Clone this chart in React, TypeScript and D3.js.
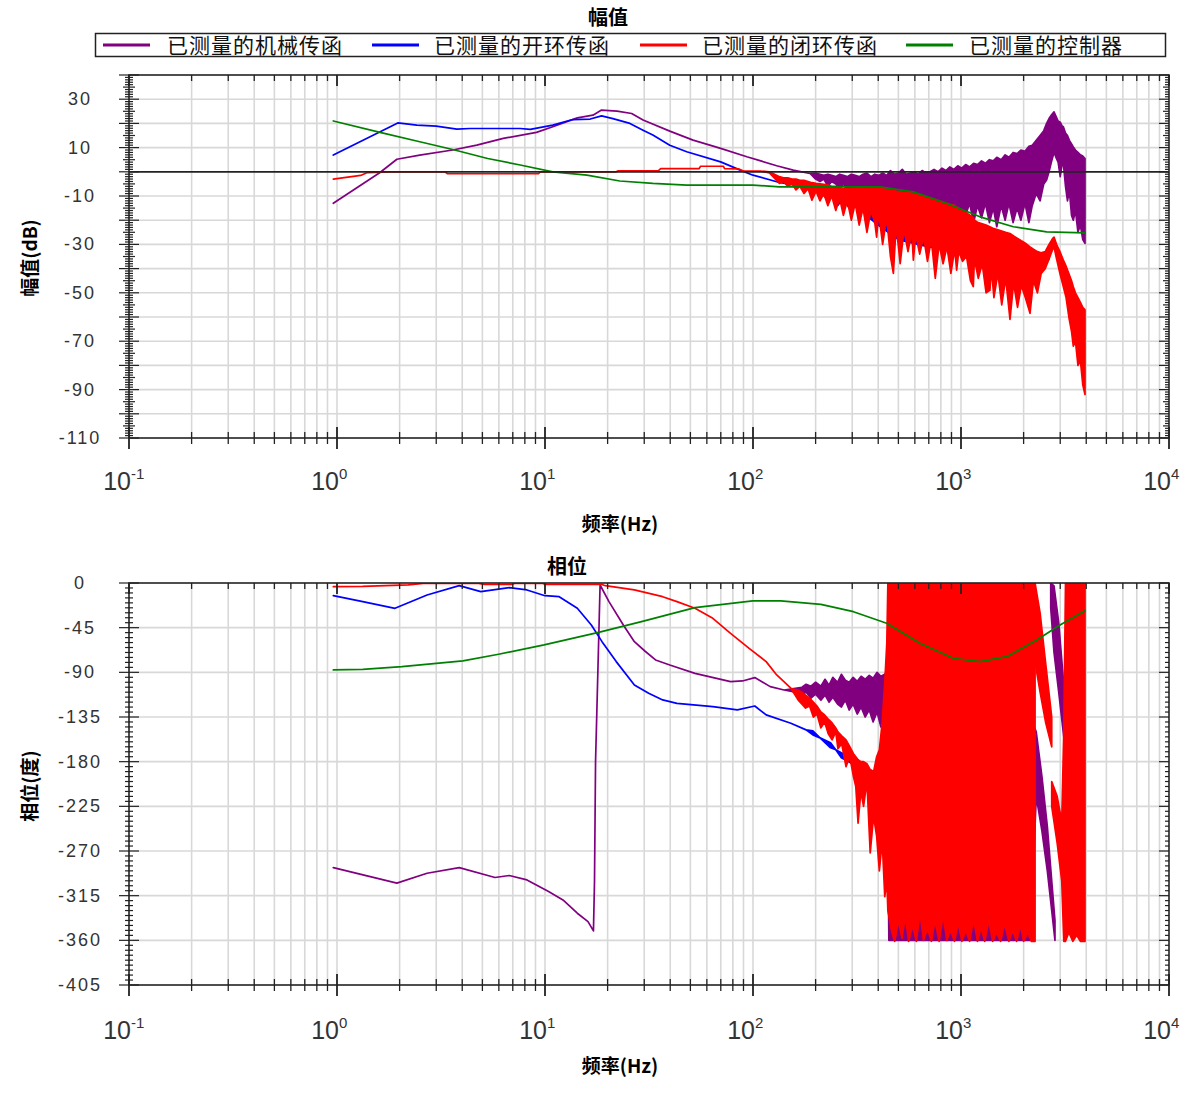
import React from 'react';
import * as d3 from 'd3';

type P = [number, number, number?];

const legendNames = ['已测量的机械传函', '已测量的开环传函', '已测量的闭环传函', '已测量的控制器'];
const seriesColors = ['#800080', '#0000ff', '#ff0000', '#008000'];
const legendLineX = [103, 372, 640, 906];
const legendTextX = [167, 434, 702, 969];

const magLabelTicks = [30, 10, -10, -30, -50, -70, -90, -110];
const magGrid = [30, 20, 10, -10, -20, -30, -40, -50, -60, -70, -80, -90, -100];
const phaseLabelTicks = [0, -45, -90, -135, -180, -225, -270, -315, -360, -405];
const phaseGrid = [-45, -90, -135, -180, -225, -270, -315, -360];
const decades = [-1, 0, 1, 2, 3, 4];

// ---------- magnitude (dB): [Hz, low, high?] ----------
const magMech: P[][] = [[
  [0.96, -13], [1.61, -0.3], [1.94, 5.2], [2.5, 6.9], [3.6, 9.0], [4.7, 11], [6.3, 13.8], [9.1, 16.3],
  [10.9, 18.6], [14.3, 22.3], [17, 23.4], [18.7, 25.5], [22.2, 25.1], [26.1, 24.1], [29.6, 21.4],
  [39.8, 16.8], [51.5, 13.1], [69.9, 9.7], [93.4, 6.2], [109, 4.5], [130, 2.5], [156, 0.7], [188, -0.7],
  [200, -3, -0.5], [210, -4, -1], [219, -3, -1.5], [229, -6, -1], [239, -4, -1.5], [250, -5, -2],
  [261, -7, -1], [272, -5, -1.5], [284, -8, -2], [297, -6, -1], [310, -9, -1.5], [324, -6, -2],
  [338, -10, -1], [353, -7, -0.5], [369, -11, -2], [385, -7, -1], [402, -14.5, -1.5], [420, -8, -0.5],
  [439, -12, -1.5], [458, -9, 0.5], [478, -13, -1], [500, -9, -0.5], [522, -15, 1], [545, -10, -1],
  [570, -16, -0.5], [595, -11, 0], [622, -17, -1], [650, -12, 0.5], [680, -20, -0.5], [710, -13, 0],
  [742, -18, 1], [775, -12, 0], [810, -19, 1.5], [846, -13, 0.5], [884, -17, 2], [924, -12, 1],
  [965, -20, 2.5], [1008, -14, 1.5], [1053, -18, 3], [1100, -13, 2], [1150, -21, 3.5], [1200, -14, 3],
  [1255, -19, 4.5], [1310, -13, 3.5], [1370, -21, 5], [1430, -15, 4.5], [1486, -22.7, 6], [1560, -14, 5],
  [1630, -20, 7], [1700, -13, 6], [1780, -21, 8], [1860, -15, 7.5], [1940, -20, 9], [2030, -13, 8.5],
  [2120, -21, 10.5], [2200, -14, 11], [2300, -9, 13], [2400, -12, 15], [2500, -5, 17], [2580, -3.4, 20],
  [2650, 0, 22], [2720, 4, 23.5], [2800, 8, 24.8], [2860, 6, 23], [2930, 4, 21], [3000, -2, 20.5],
  [3060, 3, 19], [3105, 3.5, 18.6], [3180, -6, 16], [3250, -12, 15], [3320, -8, 13], [3400, -18, 11.5],
  [3467, -20, 10.3], [3550, -16, 9], [3650, -25, 8], [3750, -22, 7], [3850, -28, 6.5], [3946, -29.6, 5.5],
]];

const magOpen: P[][] = [[
  [0.96, 6.9], [1.96, 20.2], [2.42, 19.3], [3.0, 18.9], [3.77, 17.6], [4.36, 17.9], [7.6, 17.9], [8.5, 17.5],
  [10.9, 19.3], [13.6, 21.6], [16.5, 21.8], [18.7, 23.1], [21.2, 22], [25.6, 20], [29.6, 17.2], [33, 15.2],
  [39.8, 11], [48, 8.3], [69.9, 4.1], [86.8, 0.7], [100, -1.4], [134, -4.4], [168, -5.8], [190, -7.5],
  [211, -8.2], [225, -11, -8], [240, -9], [255, -14, -9.5], [271, -11], [290, -15, -10], [310, -12],
  [350, -18, -10], [400, -22, -10], [500, -28, -11], [700, -31, -14], [1000, -33, -18], [1500, -42, -26],
  [2000, -45, -31], [2500, -39, -35], [2650, -36, -33],
]];

const magClosed: P[][] = [[
  [0.96, -3], [1.3, -1.5], [1.4, -0.3], [1.8, 0], [3.3, 0], [3.4, -0.8], [9.3, -0.8], [9.5, 0], [22, 0],
  [22.5, 0.4], [35, 0.4], [36, 1.3], [55, 1.3], [56, 2.3], [72, 2.3], [73, 1.3], [85, 1.2], [90, 0.3],
  [109, 0.3], [120, -0.5, 0], [134, -4.8, -2], [140, -4, -2.5], [147, -6, -2.5], [154, -5, -3],
  [161, -7.5, -3], [168, -6, -3.5], [176, -9, -3.5], [184, -7, -4], [192, -11.7, -4.5], [201, -8, -4.8],
  [210, -12, -5], [219, -9, -5.2], [229, -14, -5.5], [239, -10, -6], [250, -16, -6], [261, -11, -6.5],
  [272, -18, -7], [284, -12, -7], [297, -20, -7], [310, -13, -6.5], [324, -22, -6.5], [338, -15, -6.5],
  [353, -25, -7], [369, -16, -6.5], [385, -21, -6.2], [393, -27, -6.2], [402, -17, -6.5], [420, -30, -7],
  [439, -19, -7], [458, -35, -7.5], [473, -42, -7.6], [488, -22, -8], [510, -38, -8.2], [532, -24, -8.5],
  [556, -33, -8.5], [580, -25, -8.8], [590, -36.5, -9], [606, -26, -9.2], [633, -34, -9.5], [661, -27, -10],
  [690, -37, -10.5], [720, -28, -11], [752, -44, -11.5], [785, -30, -12], [820, -38, -12.5], [856, -31, -13],
  [894, -42, -13.5], [933, -32, -14], [953, -40.6, -14.5], [975, -33, -15], [1018, -37, -16], [1063, -35, -17],
  [1110, -45, -18], [1146, -47.5, -19], [1160, -36, -20], [1211, -44, -21], [1265, -38, -21.5], [1320, -50, -22],
  [1377, -49, -22.7], [1400, -40, -23], [1440, -52, -23.5], [1504, -42, -24], [1570, -55, -24.5], [1640, -44, -25],
  [1720, -61, -25.5], [1790, -46, -26.5], [1870, -56, -27.5], [1950, -47, -28.5], [2040, -52, -29.5],
  [2147, -58.5, -31], [2230, -45, -32], [2330, -50, -33], [2430, -42, -33.5], [2540, -40, -33], [2650, -36, -30],
  [2760, -32, -27.5], [2800, -31, -27], [2880, -36, -30], [2990, -42, -33], [3105, -47.5, -36.5], [3200, -52, -39],
  [3300, -60, -42], [3400, -66, -45], [3467, -72, -47.5], [3550, -70, -50], [3650, -80, -52], [3750, -78, -54],
  [3850, -88, -56], [3946, -92, -57],
]];

const magCtrl: P[][] = [[
  [0.96, 21], [1.61, 16.3], [2.5, 12.4], [3.6, 9.2], [5.3, 5.5], [7.6, 2.8], [10.9, 0], [15.9, -1.4],
  [22.9, -3.8], [33, -4.8], [48, -5.5], [100, -5.5], [134, -6.2], [408, -6.2], [590, -8.3], [853, -13],
  [1234, -18.6], [1785, -22.7], [2580, -24.8], [3946, -25.2],
]];

// ---------- phase (deg): [Hz, low, high?] ----------
const phMech: P[][] = [
  [
    [0.96, -286.7], [1.94, -302.4], [2.71, -292.4], [3.87, -286.7], [5.75, -296.7], [6.73, -294.7],
    [8.19, -299.1], [10.4, -310.9], [12.2, -319.3], [14.3, -332.7], [16.1, -341.1], [17.1, -350.5],
    [17.3, -300], [17.5, -180], [17.8, -120], [18.4, -2], [20.3, -18.8], [23.8, -42.3], [26.9, -59.1],
    [30.2, -68.5], [34, -77.5], [39.8, -82.6], [52.6, -91], [78, -99.4], [89, -98.7], [102, -95.3],
    [121, -104.4], [141, -107.8], [160, -110, -106], [172, -113, -105], [180, -110, -102], [190, -116, -104],
    [200, -112, -100], [212, -118, -104], [222, -113, -97], [232, -120, -103], [242, -115, -95],
    [255, -122, -100], [266, -125, -92], [278, -118, -98], [290, -128, -100], [303, -122, -95],
    [317, -132, -99], [331, -125, -94], [346, -135, -97], [362, -128, -93], [378, -140, -96],
    [395, -130, -90], [412, -145, -94], [430, -135, -92], [440, -150, -89], [450, -360, 0], [2200, -360, 0],
  ],
  [[2250, -265, -145], [2300, -215, -150], [2450, -250, -195], [2600, -290, -245], [2730, -330, -300], [2830, -360, -340]],
  [[2700, -25, 0], [2800, -70, -3], [2950, -110, -40], [3100, -150, -95], [3160, -165, -130]],
];

const phOpen: P[][] = [[
  [0.96, -12.8], [1.33, -18.8], [1.9, -25.5], [2.71, -12.1], [3.87, -2.7], [4.91, -8.7], [6.73, -4.7],
  [8.19, -7], [10, -12.8], [11.7, -13.8], [14.3, -25.5], [16.7, -42.3], [18.8, -59.1], [22, -79.2],
  [26.9, -102.7], [31.5, -111.1], [36.8, -117.8], [43.1, -121.2], [64.1, -124.5], [84.1, -127.8],
  [102, -123.9], [115.7, -132.9], [152, -141.3], [180, -148], [194, -153, -149], [210, -156],
  [236, -166, -161], [250, -168], [266, -176, -171], [300, -182, -176], [340, -190, -182],
]];

const phClosed: P[][] = [
  [
    [0.96, -3.7], [1.33, -3.4], [2.2, -1.8], [2.6, -0.5], [4.8, -0.3], [5.1, -1.5], [6.9, -1.5], [7.2, -0.3],
    [9.8, -0.5], [10, -1.5], [18.8, -1.5], [19.5, -2.7], [26.9, -7], [36.8, -13.8], [43.1, -18.8],
    [52.6, -25.5], [64.1, -35.6], [78, -50.7], [95.8, -65.8], [115.7, -79.2], [130, -92.6], [152, -106],
    [165, -118, -108], [172, -122, -110], [179, -126, -113], [187, -124, -116], [195, -135, -120],
    [203, -132, -124], [212, -146, -130], [221, -140, -133], [230, -152, -137], [240, -158, -141],
    [250, -150, -146], [256, -167, -150], [267, -162, -154], [280, -185, -158], [292, -175, -165],
    [304, -195, -172], [312, -205, -175], [320, -242, -178], [330, -210, -180], [340, -225, -180],
    [353, -200, -182], [366, -272, -188], [380, -235, -190], [393, -255, -175], [405, -290, -168],
    [418, -260, -140], [430, -316, -100], [440, -300, -60], [445, -330, 0], [465, -352, 0], [480, -361, 0],
    [500, -340, 0], [520, -358, 0], [540, -336, 0], [560, -361, 0], [585, -345, 0], [610, -361, 0],
    [635, -332, 0], [660, -360, 0], [690, -348, 0], [720, -361, 0], [750, -340, 0], [785, -361, 0],
    [820, -335, 0], [855, -360, 0], [890, -350, 0], [930, -361, 0], [970, -342, 0], [1010, -361, 0],
    [1055, -350, 0], [1100, -361, 0], [1150, -338, 0], [1200, -361, 0], [1250, -347, 0], [1300, -361, 0],
    [1360, -340, 0], [1420, -361, 0], [1480, -352, 0], [1550, -361, 0], [1620, -343, 0], [1700, -361, 0],
    [1770, -350, 0], [1850, -361, 0], [1930, -345, 0], [2000, -361, 0], [2090, -352, 0], [2180, -361, 0],
    [2270, -361, 0],
  ],
  [[2270, -80, 0], [2400, -110, -30], [2550, -140, -80], [2730, -165, -135]],
  [
    [2730, -225, -200], [2900, -262, -215], [3050, -300, -240], [3120, -361, -150], [3180, -361, 0],
    [3300, -352, 0], [3450, -361, 0], [3600, -355, 0], [3750, -361, 0], [3946, -361, 0],
  ],
];

const phCtrl: P[][] = [[
  [0.96, -87.6], [1.33, -87], [2.05, -84.3], [4.03, -78.5], [5.98, -71.8], [9.9, -62.4], [18.1, -49.7],
  [29.1, -38.9], [52.6, -24.8], [99.7, -18.1], [136, -18.1], [212, -21.5], [304, -28.9], [439, -40.6],
  [635, -60.7], [918, -75.8], [1234, -79.2], [1660, -74.2], [2313, -57.4], [2993, -42.3], [3946, -28],
]];

const FONT = "'Liberation Sans', Arial, sans-serif";
const CJK = "'Noto Sans CJK SC', 'Noto Sans', sans-serif";

const X0 = 129;
const X1 = 1169;
const x = d3.scaleLog().domain([0.1, 10000]).range([X0, X1]);

const logTicks: number[] = [];
decades.slice(0, 5).forEach((d) => {
  for (let k = 1; k <= 9; k++) logTicks.push(k * Math.pow(10, d));
});
logTicks.push(10000);

interface PanelProps {
  id: string;
  ys: d3.ScaleLinear<number, number>;
  lo: number;
  hi: number;
  labels: number[];
  grid: number[];
  minorStep: number;
  midStep: number;
  majorStep: number;
  data: P[][][];
  title: string;
  titleX: number;
  titleY: number;
  yTitle: string;
  yTitleY: number;
  zero: boolean;
  labelY: number;
  xTitleY: number;
}

function Panel(p: PanelProps) {
  const [yTop, yBot] = [p.ys(p.hi), p.ys(p.lo)];
  const area = d3
    .area<P>()
    .x((d) => x(d[0]))
    .y0((d) => p.ys(d[1]))
    .y1((d) => p.ys(d[2] === undefined ? d[1] : (d[2] as number)));

  const yMinor: number[] = d3.range(p.lo, p.hi + 0.001, p.minorStep);
  return (
    <g>
      <defs>
        <clipPath id={p.id}>
          <rect x={X0} y={yTop} width={X1 - X0} height={yBot - yTop} />
        </clipPath>
      </defs>
      {logTicks
        .filter((t) => t > 0.1 && t < 10000)
        .map((t, i) => (
          <line key={'gx' + i} x1={x(t)} x2={x(t)} y1={yTop} y2={yBot} stroke="#d8d8d8" strokeWidth={1.6} />
        ))}
      {p.grid.map((v, i) => (
        <line key={'gy' + i} x1={X0} x2={X1} y1={p.ys(v)} y2={p.ys(v)} stroke="#d8d8d8" strokeWidth={1.6} />
      ))}
      <g clipPath={`url(#${p.id})`}>
        {p.data.map((segs, si) =>
          segs.map((seg, j) => (
            <path
              key={si + '-' + j}
              d={area(seg) || ''}
              fill={seriesColors[si]}
              stroke={seriesColors[si]}
              strokeWidth={1.7}
              strokeLinejoin="round"
            />
          ))
        )}
      </g>
      {p.zero && <line x1={X0} x2={X1} y1={p.ys(0)} y2={p.ys(0)} stroke="#222" strokeWidth={1.8} />}
      <rect x={X0} y={yTop} width={X1 - X0} height={yBot - yTop} fill="none" stroke="#222" strokeWidth={1.6} />
      {yMinor.map((v, i) => {
        const r = Math.round(v);
        const len = r % p.majorStep === 0 ? 10 : p.midStep > 0 && r % p.midStep === 0 ? 6 : 4;
        const yy = p.ys(v);
        return (
          <g key={'yt' + i}>
            <line x1={X0 - len} x2={X0 + len} y1={yy} y2={yy} stroke="#222" strokeWidth={1.2} />
            <line x1={X1 - len} x2={X1} y1={yy} y2={yy} stroke="#222" strokeWidth={1.2} />
          </g>
        );
      })}
      {logTicks.map((t, i) => {
        const major = Math.abs(Math.log10(t) - Math.round(Math.log10(t))) < 1e-9;
        const len = major ? 11 : 6;
        const xx = x(t);
        return (
          <g key={'xt' + i}>
            <line x1={xx} x2={xx} y1={yBot - len} y2={yBot + len} stroke="#222" strokeWidth={major ? 1.8 : 1.3} />
            <line x1={xx} x2={xx} y1={yTop} y2={yTop + len} stroke="#222" strokeWidth={major ? 1.8 : 1.3} />
          </g>
        );
      })}
      {p.labels.map((v, i) => (
        <text
          key={'yl' + i}
          x={80}
          y={p.ys(v) + 6}
          textAnchor="middle"
          fontFamily={FONT}
          fontSize={18}
          letterSpacing={2}
          fill="#333"
        >
          {v}
        </text>
      ))}
      {decades.map((d) => (
        <g key={'xl' + d}>
          <text x={x(Math.pow(10, d)) + 2} y={p.labelY} textAnchor="end" fontFamily={FONT} fontSize={25} fill="#333">
            10
          </text>
          <text x={x(Math.pow(10, d)) + 2} y={p.labelY - 11} fontFamily={FONT} fontSize={15} fill="#333">
            {d}
          </text>
        </g>
      ))}
      <text x={p.titleX} y={p.titleY} textAnchor="middle" fontFamily={CJK} fontWeight="bold" fontSize={20} fill="#000">
        {p.title}
      </text>
      <text x={620} y={p.xTitleY} textAnchor="middle" fontFamily={CJK} fontWeight="bold" fontSize={19} fill="#000">
        频率(Hz)
      </text>
      <text
        transform={`translate(37,${p.yTitleY}) rotate(-90)`}
        textAnchor="middle"
        fontFamily={CJK}
        fontWeight="bold"
        fontSize={19}
        fill="#000"
      >
        {p.yTitle}
      </text>
    </g>
  );
}

export default function App() {
  const yMag = d3.scaleLinear().domain([-110, 40]).range([438, 75]);
  const yPh = d3.scaleLinear().domain([-405, 0]).range([985, 583]);
  return (
    <svg
      width={1191}
      height={1096}
      style={{ position: 'absolute', left: 0, top: 0, background: '#fff' }}
      xmlns="http://www.w3.org/2000/svg"
    >
      <rect x={0} y={0} width={1191} height={1096} fill="#fff" />
      <rect x={95.5} y={33.5} width={1070} height={23} fill="#fff" stroke="#222" strokeWidth={1.5} />
      {legendNames.map((n, i) => (
        <g key={n}>
          <line x1={legendLineX[i]} x2={legendLineX[i] + 47} y1={45} y2={45} stroke={seriesColors[i]} strokeWidth={3} />
          <text x={legendTextX[i]} y={52.5} fontFamily={CJK} fontSize={21} letterSpacing={1} fill="#111">
            {n}
          </text>
        </g>
      ))}
      <Panel
        id="clipMag"
        ys={yMag}
        lo={-110}
        hi={40}
        labels={magLabelTicks}
        grid={magGrid}
        minorStep={1}
        midStep={5}
        majorStep={10}
        data={[magMech, magOpen, magClosed, magCtrl]}
        title="幅值"
        titleX={608}
        titleY={25}
        yTitle="幅值(dB)"
        yTitleY={258}
        zero={true}
        labelY={490}
        xTitleY={531}
      />
      <Panel
        id="clipPh"
        ys={yPh}
        lo={-405}
        hi={0}
        labels={phaseLabelTicks}
        grid={phaseGrid}
        minorStep={5}
        midStep={0}
        majorStep={45}
        data={[phMech, phOpen, phClosed, phCtrl]}
        title="相位"
        titleX={567}
        titleY={574}
        yTitle="相位(度)"
        yTitleY={786}
        zero={false}
        labelY={1039}
        xTitleY={1073}
      />
    </svg>
  );
}
